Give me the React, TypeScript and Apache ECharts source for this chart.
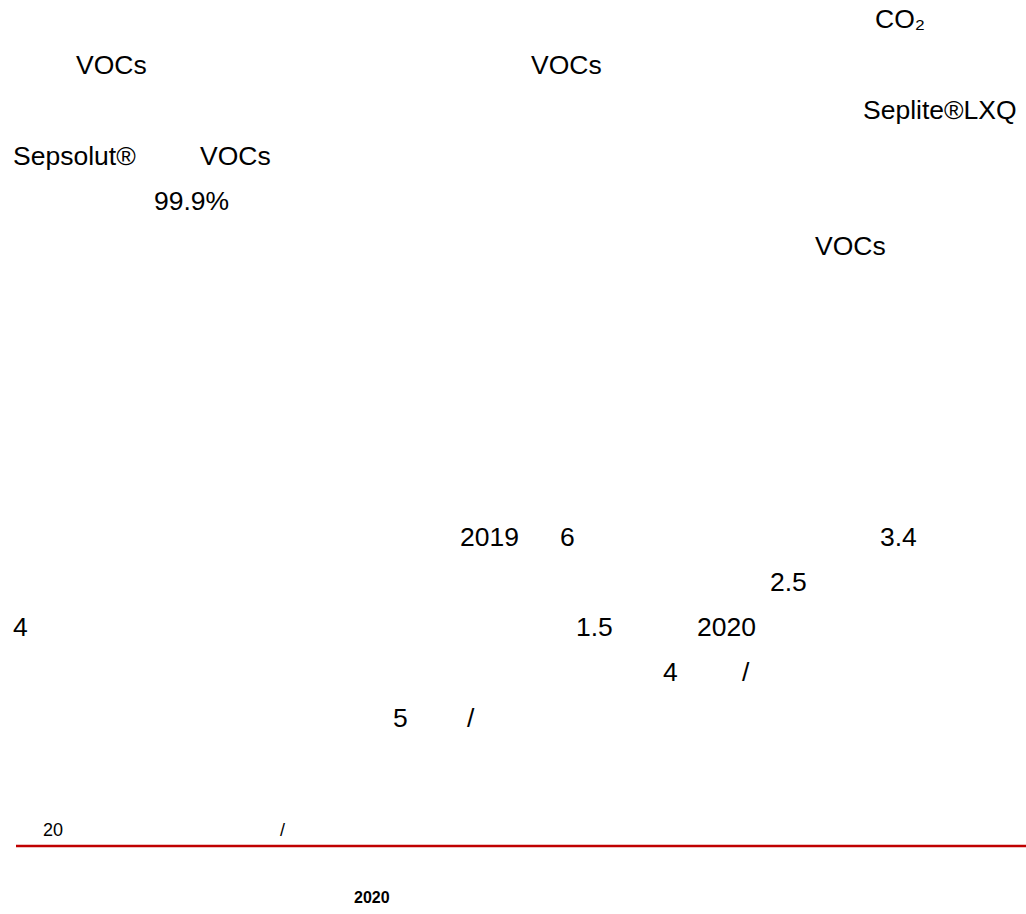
import React, { useEffect, useRef } from "react";
import * as echarts from "echarts";

// Text fragments (the Latin runs visible on the page)
const bodyTexts = [
  "CO₂",
  "VOCs",
  "VOCs",
  "Seplite®LXQ",
  "Sepsolut®",
  "VOCs",
  "99.9%",
  "VOCs",
  "2019",
  "6",
  "3.4",
  "2.5",
  "4",
  "1.5",
  "2020",
  "4",
  "/",
  "5",
  "/",
];
// line index for each fragment
const bodyLines = [0, 1, 1, 2, 3, 3, 4, 5, 6, 6, 6, 7, 8, 8, 8, 9, 9, 10, 10];
const bodyX = [875, 76, 531, 863, 13, 200, 154, 815, 460, 560, 880, 770, 13, 576, 697, 663, 742, 393, 467];
const lineY = [19, 64.5, 110, 155.5, 201, 246, 537, 582, 627, 672, 717.5];

const footerTexts = ["20", "/"];
const footerX = [43, 280];
const headingText = "2020";

export default function App() {
  const ref = useRef<HTMLDivElement>(null);
  useEffect(() => {
    document.body.style.margin = "0";
    if (!ref.current) return;
    const chart = echarts.init(ref.current, null, { renderer: "svg" });
    const font = "26.5px 'Liberation Sans', Arial, sans-serif";
    const elements: any[] = [];
    bodyTexts.forEach((t, i) => {
      elements.push({
        type: "text",
        x: bodyX[i],
        y: lineY[bodyLines[i]],
        style: { text: t, font, fill: "#000", verticalAlign: "middle", align: "left" },
      });
    });
    footerTexts.forEach((t, i) => {
      elements.push({
        type: "text",
        x: footerX[i],
        y: 830,
        style: { text: t, font: "18px 'Liberation Sans', Arial, sans-serif", fill: "#000", verticalAlign: "middle" },
      });
    });
    elements.push({
      type: "line",
      shape: { x1: 16, y1: 846, x2: 1026, y2: 846 },
      style: { stroke: "#C00000", lineWidth: 2.5 },
    });
    elements.push({
      type: "text",
      x: 354,
      y: 897,
      style: { text: headingText, font: "bold 16px 'Liberation Sans', Arial, sans-serif", fill: "#000", verticalAlign: "middle" },
    });
    chart.setOption({
      animation: false,
      backgroundColor: "#fff",
      graphic: { elements },
    });
    return () => chart.dispose();
  }, []);
  return <div ref={ref} style={{ width: 1026, height: 914 }} />;
}
